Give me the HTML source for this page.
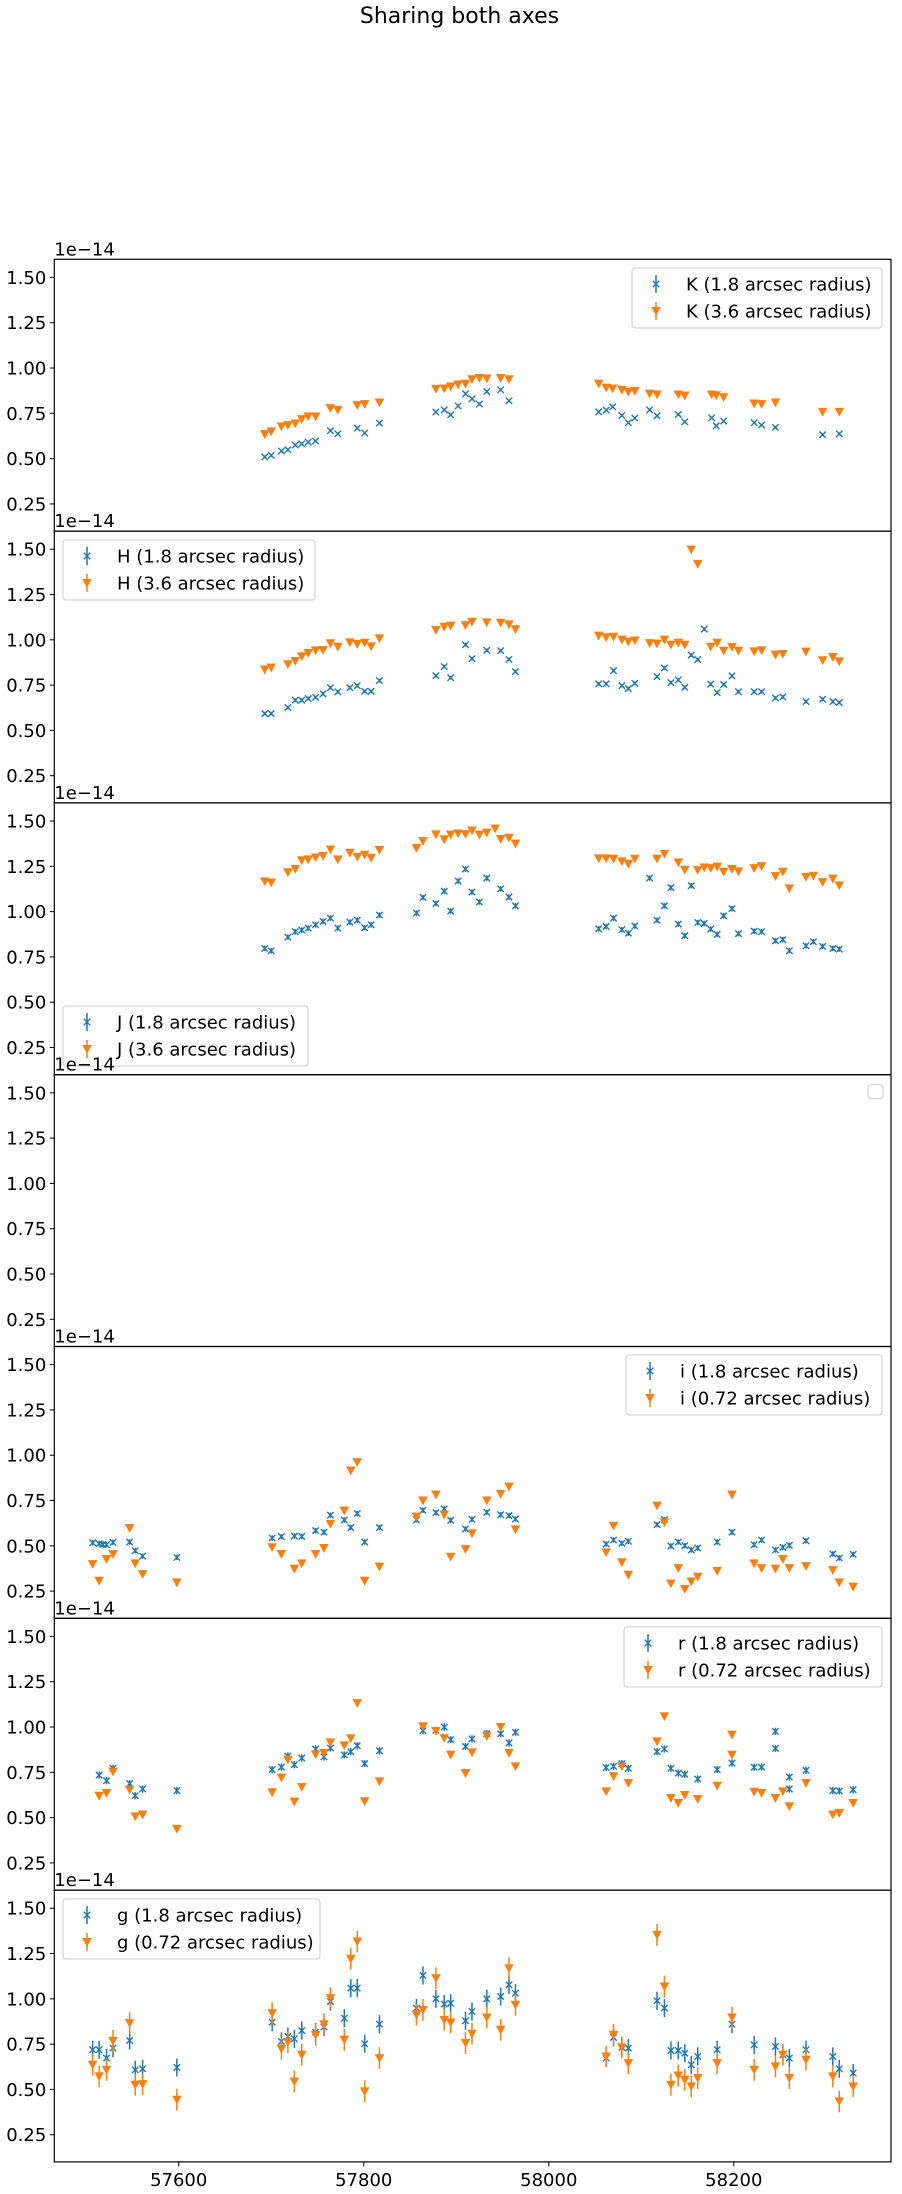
<!DOCTYPE html>
<html><head><meta charset="utf-8">
<style>
html,body{margin:0;padding:0;background:#fff;}
svg{display:block;font-family:"DejaVu Sans","Liberation Sans",sans-serif;}
</style></head>
<body>
<svg id="fig" width="902" height="2194" viewBox="0 0 902 2194" xmlns="http://www.w3.org/2000/svg">
<text x="459.5" y="23" text-anchor="middle" font-size="22" fill="#000">Sharing both axes</text>
<g id="plots"></g>
</svg>
<script>
// ---- data ----
const kDates=[57693,57700,57711,57718,57726,57733,57740,57748,57764,57772,57793,57801,57817,57878,57887,57894,57902,57910,57917,57925,57933,57948,57957,58054,58062,58069,58079,58086,58093,58109,58117,58140,58147,58176,58181,58189,58222,58230,58245,58296,58314];
const kSmall=[0.509,0.518,0.542,0.549,0.575,0.582,0.591,0.597,0.654,0.637,0.668,0.641,0.696,0.757,0.769,0.742,0.791,0.858,0.830,0.801,0.870,0.880,0.819,0.758,0.768,0.786,0.738,0.698,0.724,0.769,0.736,0.744,0.703,0.725,0.681,0.707,0.698,0.685,0.672,0.632,0.637];
const kLarge=[0.635,0.650,0.678,0.685,0.694,0.718,0.733,0.733,0.779,0.769,0.795,0.801,0.810,0.885,0.887,0.898,0.909,0.913,0.938,0.945,0.942,0.945,0.938,0.914,0.892,0.887,0.880,0.869,0.874,0.859,0.854,0.854,0.848,0.854,0.850,0.839,0.804,0.801,0.810,0.758,0.758];

const hDatesSmall=[57693,57700,57718,57726,57733,57740,57748,57756,57764,57772,57785,57793,57801,57808,57817,57878,57887,57894,57910,57917,57933,57948,57957,57964,58054,58062,58070,58079,58086,58093,58117,58125,58132,58140,58147,58154,58161,58168,58175,58182,58189,58198,58205,58222,58230,58245,58253,58278,58296,58307,58314];
const hSmall=[0.593,0.593,0.626,0.667,0.667,0.676,0.683,0.702,0.736,0.713,0.736,0.747,0.716,0.716,0.775,0.802,0.852,0.791,0.973,0.896,0.942,0.940,0.892,0.825,0.757,0.757,0.830,0.747,0.731,0.760,0.797,0.845,0.764,0.779,0.738,0.916,0.891,1.059,0.755,0.709,0.753,0.801,0.714,0.714,0.714,0.679,0.685,0.659,0.672,0.659,0.654];
const hDatesLarge=[57693,57700,57718,57726,57733,57740,57748,57756,57764,57772,57785,57793,57801,57808,57817,57878,57887,57894,57910,57917,57933,57948,57957,57964,58054,58062,58070,58079,58086,58093,58109,58117,58125,58132,58140,58147,58154,58161,58175,58182,58189,58198,58205,58222,58230,58245,58253,58278,58296,58307,58314];
const hLarge=[0.836,0.847,0.865,0.883,0.909,0.927,0.942,0.944,0.981,0.962,0.986,0.977,0.984,0.964,1.008,1.054,1.072,1.078,1.081,1.100,1.096,1.094,1.085,1.058,1.023,1.014,1.017,1.001,0.990,0.997,0.982,0.979,1.001,0.973,0.984,0.973,1.498,1.419,0.962,0.984,0.940,0.960,0.940,0.936,0.942,0.918,0.922,0.935,0.887,0.905,0.881];

const jDatesSmall=[57693,57700,57718,57726,57733,57740,57748,57756,57764,57772,57785,57793,57801,57808,57817,57857,57864,57878,57887,57894,57902,57910,57917,57925,57933,57948,57957,57964,58054,58062,58070,58079,58086,58093,58109,58117,58125,58132,58140,58147,58154,58161,58168,58175,58182,58189,58198,58205,58222,58230,58245,58253,58260,58278,58286,58296,58307,58314];
const jSmall=[0.797,0.784,0.859,0.889,0.898,0.909,0.927,0.946,0.964,0.909,0.942,0.953,0.911,0.927,0.981,0.992,1.078,1.045,1.113,1.003,1.169,1.235,1.108,1.053,1.185,1.126,1.080,1.032,0.905,0.918,0.964,0.900,0.881,0.920,1.185,0.953,1.032,1.132,0.931,0.867,1.143,0.940,0.935,0.904,0.874,0.977,1.016,0.878,0.892,0.889,0.839,0.845,0.784,0.811,0.834,0.808,0.797,0.793];
const jDatesLarge=[57693,57700,57718,57726,57733,57740,57748,57756,57764,57772,57785,57793,57801,57808,57817,57857,57864,57878,57887,57894,57902,57910,57917,57925,57933,57942,57948,57957,57964,58054,58062,58070,58079,58086,58093,58117,58125,58140,58147,58161,58168,58175,58182,58189,58198,58205,58222,58230,58245,58253,58260,58278,58286,58296,58307,58314];
const jLarge=[1.167,1.160,1.217,1.235,1.283,1.288,1.299,1.307,1.343,1.288,1.325,1.303,1.314,1.297,1.340,1.351,1.390,1.426,1.399,1.425,1.432,1.428,1.448,1.425,1.436,1.458,1.401,1.408,1.375,1.294,1.294,1.292,1.277,1.264,1.292,1.292,1.318,1.272,1.231,1.229,1.244,1.240,1.248,1.220,1.235,1.222,1.240,1.251,1.196,1.220,1.128,1.191,1.198,1.163,1.182,1.145];

const iDatesSmall=[57507,57514,57518,57522,57529,57547,57553,57561,57598,57701,57711,57725,57733,57748,57757,57764,57779,57786,57793,57801,57817,57857,57864,57878,57887,57894,57910,57917,57933,57948,57957,57964,58062,58070,58079,58086,58117,58125,58132,58140,58147,58154,58161,58182,58198,58222,58230,58245,58253,58260,58278,58307,58314,58329];
const iSmall=[0.517,0.512,0.508,0.506,0.519,0.521,0.473,0.443,0.436,0.543,0.551,0.554,0.552,0.584,0.575,0.669,0.643,0.601,0.678,0.521,0.601,0.643,0.696,0.683,0.704,0.641,0.593,0.646,0.685,0.672,0.667,0.648,0.510,0.532,0.514,0.525,0.617,0.645,0.499,0.521,0.501,0.477,0.488,0.521,0.575,0.506,0.532,0.477,0.492,0.503,0.528,0.455,0.433,0.453];
const iDatesLarge=[57507,57514,57522,57529,57547,57553,57561,57598,57701,57711,57725,57733,57748,57757,57764,57779,57786,57793,57801,57817,57857,57864,57878,57887,57894,57910,57917,57933,57948,57957,57964,58062,58070,58079,58086,58117,58125,58132,58140,58147,58154,58161,58182,58198,58222,58230,58245,58253,58260,58278,58307,58314,58329];
const iLarge=[0.399,0.307,0.427,0.455,0.598,0.403,0.344,0.298,0.492,0.455,0.374,0.403,0.455,0.488,0.621,0.694,0.916,0.962,0.307,0.385,0.661,0.750,0.783,0.672,0.440,0.482,0.569,0.750,0.787,0.827,0.591,0.464,0.611,0.409,0.340,0.722,0.630,0.292,0.377,0.261,0.303,0.329,0.362,0.783,0.403,0.377,0.374,0.427,0.377,0.388,0.366,0.298,0.274];

const rDatesSmall=[57514,57522,57529,57547,57553,57561,57598,57701,57711,57718,57725,57733,57748,57757,57764,57779,57786,57793,57801,57817,57864,57878,57887,57894,57910,57917,57933,57948,57957,57964,58062,58070,58079,58086,58117,58125,58132,58140,58147,58161,58182,58198,58222,58230,58245,58245,58260,58260,58278,58307,58314,58329];
const rSmall=[0.735,0.704,0.772,0.688,0.621,0.658,0.649,0.765,0.779,0.840,0.792,0.829,0.879,0.835,0.884,0.846,0.864,0.897,0.798,0.869,0.980,0.982,1.000,0.930,0.893,0.934,0.963,0.963,0.912,0.971,0.776,0.783,0.798,0.772,0.864,0.879,0.772,0.746,0.739,0.713,0.765,0.801,0.778,0.779,0.976,0.882,0.724,0.658,0.761,0.649,0.647,0.654];
const rDatesLarge=[57514,57522,57529,57547,57553,57561,57598,57701,57711,57718,57725,57733,57748,57757,57764,57779,57786,57793,57801,57817,57864,57878,57887,57894,57910,57917,57933,57948,57957,57964,58062,58070,58079,58086,58117,58125,58132,58140,58147,58161,58182,58198,58198,58222,58230,58245,58253,58260,58278,58307,58314,58329];
const rLarge=[0.621,0.636,0.754,0.654,0.507,0.517,0.438,0.640,0.721,0.820,0.588,0.669,0.849,0.857,0.915,0.899,0.938,1.132,0.590,0.700,1.004,0.978,0.939,0.847,0.746,0.860,0.949,1.000,0.857,0.783,0.645,0.728,0.783,0.691,0.921,1.059,0.608,0.581,0.625,0.603,0.676,0.847,0.958,0.643,0.636,0.608,0.645,0.563,0.691,0.517,0.526,0.581];

const gDates=[57507,57514,57522,57529,57547,57553,57561,57598,57701,57711,57718,57725,57733,57748,57757,57764,57779,57786,57793,57801,57817,57857,57864,57878,57887,57894,57910,57917,57933,57948,57957,57964,58062,58070,58079,58086,58117,58125,58132,58140,58147,58154,58161,58182,58198,58222,58245,58253,58260,58278,58307,58314,58329];
const gSmall=[0.719,0.719,0.673,0.728,0.770,0.608,0.614,0.621,0.871,0.765,0.792,0.779,0.825,0.816,0.844,0.985,0.893,1.059,1.059,0.752,0.860,0.949,1.129,1.000,0.971,0.976,0.879,0.930,1.000,1.013,1.077,1.031,0.673,0.787,0.732,0.728,0.989,0.949,0.715,0.715,0.700,0.636,0.682,0.719,0.860,0.746,0.737,0.691,0.673,0.719,0.682,0.614,0.590];
const gLarge=[0.636,0.572,0.608,0.768,0.866,0.526,0.529,0.443,0.921,0.724,0.761,0.544,0.691,0.801,0.860,1.004,0.774,1.221,1.316,0.489,0.673,0.912,0.939,1.114,0.884,0.869,0.756,0.807,0.897,0.829,1.169,0.967,0.682,0.801,0.732,0.645,1.353,1.068,0.526,0.577,0.553,0.517,0.563,0.645,0.897,0.608,0.627,0.691,0.563,0.664,0.572,0.434,0.517];

const yTickValues=[0.25,0.50,0.75,1.00,1.25,1.50];
const yTickLabels=["0.25","0.50","0.75","1.00","1.25","1.50"];
const xTickValues=[57600,57800,58000,58200];
const xTickLabels=["57600","57800","58000","58200"];

// ---- layout ----
const AX_L=54.3, AX_R=891, TOP0=259.3, PH=271.8;
const YMIN=0.1, YMAX=1.6;
const BLUE="#1f77b4", ORANGE="#ff7f0e";
function xS(d){return 178.7+(d-57600)*0.9252;}
function yS(v,k){return TOP0+PH*k+PH*(YMAX-v)/(YMAX-YMIN);}

const panels=[
 {band:"K",r1:"1.8",r2:"3.6",d1:kDates,v1:kSmall,d2:kDates,v2:kLarge,e1:0.008,e2:0.008,leg:[632,268,250]},
 {band:"H",r1:"1.8",r2:"3.6",d1:hDatesSmall,v1:hSmall,d2:hDatesLarge,v2:hLarge,e1:0.01,e2:0.015,leg:[63,540,252]},
 {band:"J",r1:"1.8",r2:"3.6",d1:jDatesSmall,v1:jSmall,d2:jDatesLarge,v2:jLarge,e1:0.015,e2:0.015,leg:[63,1006,245]},
 {band:null},
 {band:"i",r1:"1.8",r2:"0.72",d1:iDatesSmall,v1:iSmall,d2:iDatesLarge,v2:iLarge,e1:0.015,e2:0.02,leg:[626,1355,256]},
 {band:"r",r1:"1.8",r2:"0.72",d1:rDatesSmall,v1:rSmall,d2:rDatesLarge,v2:rLarge,e1:0.02,e2:0.02,leg:[624,1627,258]},
 {band:"g",r1:"1.8",r2:"0.72",d1:gDates,v1:gSmall,d2:gDates,v2:gLarge,e1:0.05,e2:0.06,leg:[63,1899,257]}
];

const NS="http://www.w3.org/2000/svg";
const root=document.getElementById('plots');
function mk(tag,attrs,parent){const e=document.createElementNS(NS,tag);for(const k in attrs)e.setAttribute(k,attrs[k]);(parent||root).appendChild(e);return e;}

function drawX(g,x,y,color){
 const p=mk('path',{d:`M${x-3.2},${y-3.2}L${x+3.2},${y+3.2}M${x-3.2},${y+3.2}L${x+3.2},${y-3.2}`,stroke:color,'stroke-width':1.4,fill:'none'},g);
 
 
}
function drawTri(g,x,y,color){
 const p=mk('path',{d:`M${x-4.8},${y-4}L${x+4.8},${y-4}L${x},${y+4.8}Z`,fill:color},g);
 
 
}
function errbar(g,x,y1,y2,color){
 const l=mk('line',{x1:x,x2:x,y1:y1,y2:y2,stroke:color,'stroke-width':1.5},g);
 
 
}

panels.forEach((p,k)=>{
 const top=TOP0+PH*k, bot=top+PH;
 const g=mk('g',{});
 
 
 // offset text
 const ot=mk('text',{x:AX_L,y:top-4,'font-size':18,fill:'#000'},g);
 ot.textContent="1e\u221214";
 
 
 // y ticks
 yTickValues.forEach((v,i)=>{
  const y=yS(v,k);
  const t=mk('line',{x1:AX_L-4.5,x2:AX_L,y1:y,y2:y,stroke:'#000','stroke-width':1},g);
  
  
  const tl=mk('text',{x:AX_L-8,y:y+6.5,'text-anchor':'end','font-size':18,fill:'#000'},g);
  tl.textContent=yTickLabels[i];
  
  
 });
 if(p.band){
  const cs=mk('g',{},g);
  
  
  p.d1.forEach((d,i)=>{const x=xS(d);errbar(cs,x,yS(p.v1[i]+p.e1,k),yS(p.v1[i]-p.e1,k),BLUE);drawX(cs,x,yS(p.v1[i],k),BLUE);});
  const cl=mk('g',{},g);
  
  
  p.d2.forEach((d,i)=>{const x=xS(d);errbar(cl,x,yS(p.v2[i]+p.e2,k),yS(p.v2[i]-p.e2,k),ORANGE);drawTri(cl,x,yS(p.v2[i],k),ORANGE);});
  // legend
  const [lx,ly,lw]=p.leg;
  const lg=mk('g',{},g);
  
  
  mk('rect',{x:lx,y:ly,width:lw,height:60,rx:3,fill:'#fff','fill-opacity':0.8,stroke:'#cccccc','stroke-width':1},lg);
  [[BLUE,p.r1,0],[ORANGE,p.r2,1]].forEach(([c,r,j])=>{
   const cy=ly+16+j*27, hx=lx+24;
   const ent=mk('g',{},lg);
   
   
   errbar(ent,hx,cy-9,cy+9,c);
   if(j===0)drawX(ent,hx,cy,c);else drawTri(ent,hx,cy,c);
   const tx=mk('text',{x:lx+54,y:cy+6.5,'font-size':18,fill:'#000'},ent);
   tx.textContent=p.band+" ("+r+" arcsec radius)";
   
   
  });
 } else {
  const el=mk('rect',{x:868,y:top+10,width:15,height:14,rx:3,fill:'#fff',stroke:'#cccccc','stroke-width':1},g);
  
  
 }
 const fr=mk('rect',{x:AX_L,y:top,width:AX_R-AX_L,height:PH,fill:'none',stroke:'#000','stroke-width':1.2},g);
 
 
});

// x ticks bottom panel
const xg=mk('g',{});


const BOT=TOP0+PH*7;
xTickValues.forEach((v,i)=>{
 const x=xS(v);
 const t=mk('line',{x1:x,x2:x,y1:BOT,y2:BOT+4.5,stroke:'#000','stroke-width':1},xg);
 
 
 const tl=mk('text',{x:x,y:BOT+24,'text-anchor':'middle','font-size':18,fill:'#000'},xg);
 tl.textContent=xTickLabels[i];
 
 
});
</script>
</body></html>
